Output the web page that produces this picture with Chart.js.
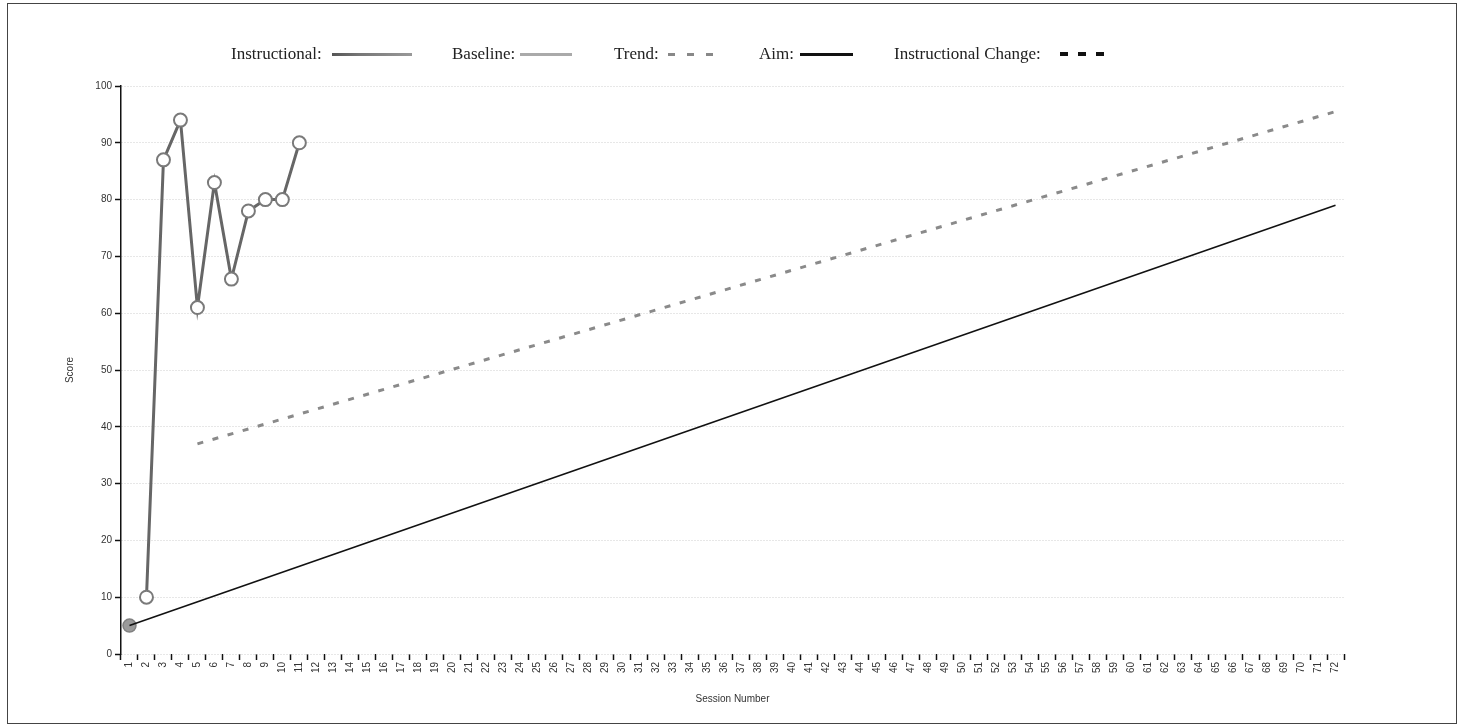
<!DOCTYPE html>
<html lang="en">
<head>
  <meta charset="UTF-8" />
  <title>Score by Session</title>
  <script src="https://cdn.jsdelivr.net/npm/chart.js"></script>
  <style>
    body { margin: 0; background: #fff; overflow: hidden; }
    #wrap { position: relative; width: 1463px; height: 727px; }
    #frame { position: absolute; left: 7px; top: 3px; width: 1450px; height: 721px; border: 1.5px solid #444; box-sizing: border-box; pointer-events: none; }
    canvas { position: absolute; left: 0; top: 0; }
    .lg { position: absolute; top: 44px; font: 17px "Liberation Serif", "Times New Roman", serif; color: #222; white-space: nowrap; line-height: 20px; }
    .sw { position: absolute; top: 53px; height: 3px; }
  </style>
</head>
<body>
<div id="wrap">
  <canvas id="chart" width="1463" height="727"></canvas>
  <div id="frame"></div>
  <span class="lg" style="left:231px">Instructional:</span>
  <span class="sw" style="left:332px;width:80px;background:linear-gradient(to right,#555,#777 35%,#999)"></span>
  <span class="lg" style="left:452px">Baseline:</span>
  <span class="sw" style="left:520px;width:52px;background:#aaa"></span>
  <span class="lg" style="left:614px">Trend:</span>
  <span class="sw" style="left:668px;width:52px;background:repeating-linear-gradient(to right,#888 0 7px,transparent 7px 19px)"></span>
  <span class="lg" style="left:759px">Aim:</span>
  <span class="sw" style="left:800px;width:53px;background:#111"></span>
  <span class="lg" style="left:894px">Instructional Change:</span>
  <span class="sw" style="left:1060px;width:44px;height:4px;top:52px;background:repeating-linear-gradient(to right,#111 0 8px,transparent 8px 18px)"></span>
</div>
<script>
// session numbers on the x axis
const sessions = ['1','2','3','4','5','6','7','8','9','10','11','12','13','14','15','16','17','18',
  '19','20','21','22','23','24','25','26','27','28','29','30','31','32','33','34','35','36',
  '37','38','39','40','41','42','43','44','45','46','47','48','49','50','51','52','53','54',
  '55','56','57','58','59','60','61','62','63','64','65','66','67','68','69','70','71','72'];

const instrSessions = ['2','3','4','5','6','7','8','9','10','11'];
const instrScores = [10, 87, 94, 61, 83, 66, 78, 80, 80, 90];

const baselineSessions = ['1'];
const baselineScores = [5];

const aimSessions = ['1', '72'];
const aimScores = [5, 79];

const trendSessions = ['5', '72'];
const trendScores = [37, 95.5];

const pairs = (xs, ys) => xs.map((x, i) => ({ x: x, y: ys[i] }));
const tickFont = { family: "'Liberation Sans', Arial, sans-serif", size: 10 };

new Chart(document.getElementById("chart").getContext("2d"), {
  type: 'line',
  data: {
    labels: sessions,
    datasets: [
      {
        label: "Aim",
        data: pairs(aimSessions, aimScores),
        borderColor: "#111",
        borderWidth: 1.6,
        pointRadius: 0
      },
      {
        label: "Trend",
        data: pairs(trendSessions, trendScores),
        borderColor: "#8a8a8a",
        borderWidth: 3,
        borderDash: [6, 9.7],
        pointRadius: 0
      },
      {
        label: "Baseline",
        data: pairs(baselineSessions, baselineScores),
        borderColor: "#aaa",
        borderWidth: 3,
        pointRadius: 6.5,
        pointBackgroundColor: "#9a9a9a",
        pointBorderColor: "#808080",
        pointBorderWidth: 1.5
      },
      {
        label: "Instructional",
        data: pairs(instrSessions, instrScores),
        borderColor: "#666",
        borderWidth: 3,
        pointRadius: 6.5,
        pointBackgroundColor: "#fff",
        pointBorderColor: "#7a7a7a",
        pointBorderWidth: 2
      }
    ]
  },
  options: {
    responsive: false,
    animation: false,
    plugins: { legend: { display: false }, tooltip: { enabled: false } },
    layout: { padding: { left: 60, right: 119, top: 86, bottom: 18 } },
    scales: {
      x: {
        offset: true,
        grid: { offset: true, drawOnChartArea: false, tickLength: 6, tickColor: "#111", tickWidth: 1.5 },
        border: { display: false },
        ticks: { minRotation: 90, maxRotation: 90, autoSkip: false, font: tickFont, color: "#333", padding: 2 },
        title: { display: true, text: "Session Number", font: tickFont, color: "#333" },
        afterFit: s => { s.height = 55; }
      },
      y: {
        min: 0,
        max: 100,
        ticks: { stepSize: 10, font: tickFont, color: "#333", padding: 3 },
        grid: { color: "#cfcfcf", lineWidth: 1, tickColor: "#111", tickLength: 6, tickWidth: 1.5 },
        border: { display: true, color: "#111", width: 1.5, dash: [1, 2] },
        title: { display: true, text: "Score", font: tickFont, color: "#333" },
        afterFit: s => { s.width = 61; }
      }
    }
  }
});
</script>
</body>
</html>
